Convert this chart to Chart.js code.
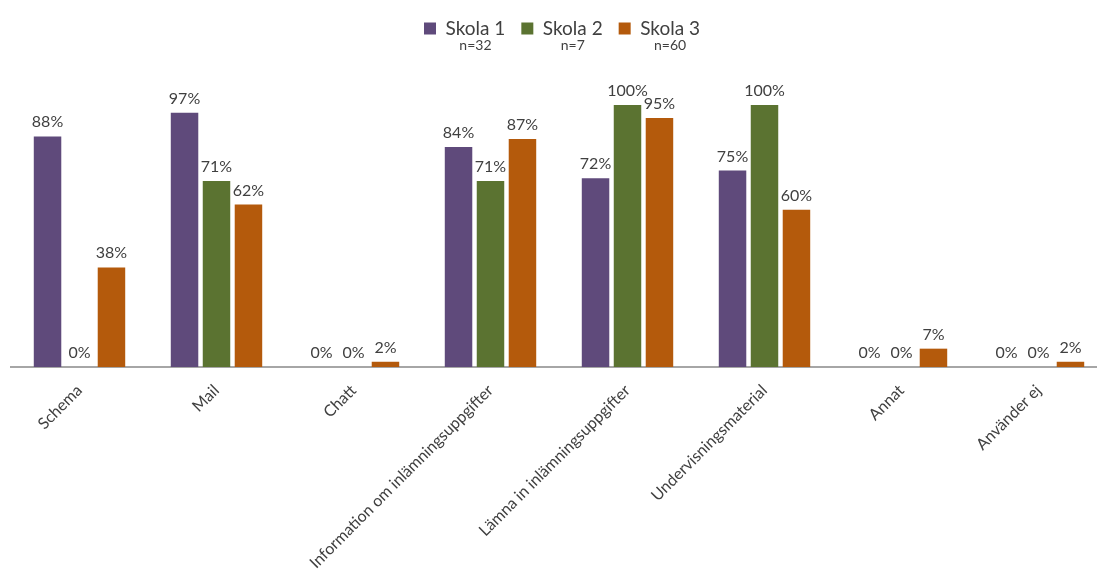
<!DOCTYPE html>
<html>
<head>
<meta charset="utf-8">
<script src="https://cdn.jsdelivr.net/npm/chart.js@4.4.0/dist/chart.umd.min.js"></script>
<style>
  html, body { margin: 0; padding: 0; background: #fff; }
  #wrap { width: 1097px; height: 574px; }
</style>
</head>
<body>
<div id="wrap"><canvas id="chart"></canvas></div>
<script>
var categories = ['Schema', 'Mail', 'Chatt', 'Information om inlämningsuppgifter', 'Lämna in inlämningsuppgifter', 'Undervisningsmaterial', 'Annat', 'Använder ej'];
var schools = ['Skola 1', 'Skola 2', 'Skola 3'];
var sampleSizes = ['n=32', 'n=7', 'n=60'];
var skola1 = [88, 97, 0, 84, 72, 75, 0, 0];
var skola2 = [0, 71, 0, 71, 100, 100, 0, 0];
var skola3 = [38, 62, 2, 87, 95, 60, 7, 2];
var colors = ['#5f4a7b', '#5b7331', '#b45a0c'];

var textColor = '#404040';
var font = 'Lato, "Open Sans", sans-serif';
var legendFont = 19;

// value labels above each bar
var barLabels = {
    id: 'barLabels',
    afterDatasetsDraw(chart) {
        const ctx = chart.ctx;
        ctx.save();
        ctx.fillStyle = textColor;
        ctx.font = '16px ' + font;
        ctx.textAlign = 'center';
        ctx.textBaseline = 'alphabetic';
        chart.data.datasets.forEach((ds, i) => {
            chart.getDatasetMeta(i).data.forEach((bar, j) => {
                ctx.fillText(ds.data[j] + '%', bar.x, bar.y - 9);
            });
        });
        ctx.restore();
    }
};

// make the legend block reach down to the top of the plot (room for the n= lines)
var legendSpace = {
    id: 'legendSpace',
    beforeLayout(chart) {
        const lg = chart.legend;
        if (lg && !lg._patched) {
            const fit = lg.fit.bind(lg);
            lg.fit = function () {
                fit();
                this.height = 102;
            };
            lg._patched = true;
        }
    },
    afterLayout(chart) {
        // plot in the original runs a little past the right edge
        const x = chart.scales.x;
        x.right += 10;
        x.width += 10;
        chart.chartArea.right += 10;
        chart.chartArea.width += 10;
        x.configure();
        // legend sits a bit right of centre
        chart.legend.left += 8;
        chart.legend.right += 8;
    },
    afterDraw(chart) {
        const boxes = chart.legend.legendHitBoxes;
        const ctx = chart.ctx;
        ctx.save();
        ctx.fillStyle = textColor;
        ctx.font = '14px ' + font;
        ctx.textAlign = 'center';
        ctx.textBaseline = 'middle';
        boxes.forEach((b, i) => {
            const off = 12 + legendFont / 2;
            ctx.fillText(sampleSizes[i], b.left + off + (b.width - off) / 2, 45);
        });
        ctx.restore();
    }
};

new Chart(document.getElementById('chart'), {
    type: 'bar',
    data: {
        labels: categories,
        datasets: schools.map((s, i) => ({
            label: s,
            data: [skola1, skola2, skola3][i],
            backgroundColor: colors[i],
            categoryPercentage: 0.7,
            barPercentage: 0.86
        }))
    },
    options: {
        responsive: true,
        maintainAspectRatio: false,
        animation: false,
        layout: { padding: { left: 11, right: 0, top: 3, bottom: 0 } },
        plugins: {
            legend: {
                position: 'top',
                labels: {
                    color: textColor,
                    font: { size: legendFont, family: font },
                    boxWidth: 12,
                    boxHeight: 12,
                    padding: 16
                }
            },
            tooltip: { enabled: false }
        },
        scales: {
            x: {
                grid: { display: false },
                border: { display: true, color: '#a6a6a6', width: 2 },
                ticks: {
                    color: textColor,
                    font: { size: 16, family: font },
                    minRotation: 45,
                    maxRotation: 45,
                    autoSkip: false,
                    padding: 6
                },
                afterFit(scale) { scale.height = 207; }
            },
            y: {
                display: false,
                min: 0,
                max: 100
            }
        }
    },
    plugins: [barLabels, legendSpace]
});
</script>
</body>
</html>
